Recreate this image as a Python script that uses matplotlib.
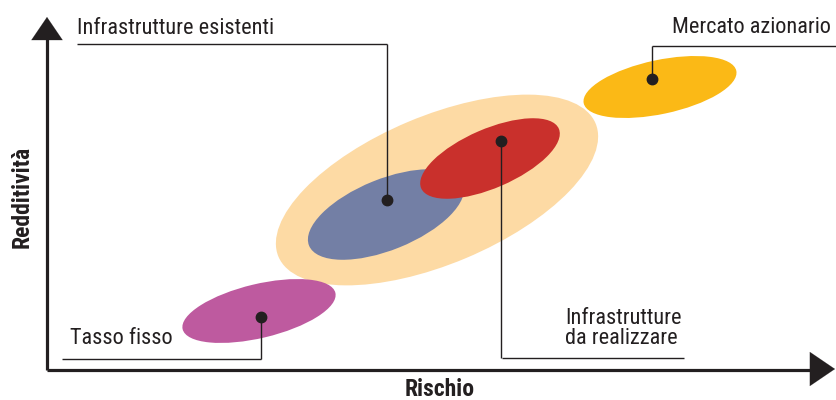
import matplotlib
matplotlib.use("Agg")
import matplotlib.pyplot as plt
from matplotlib.patches import Ellipse

FONT = "Roboto Condensed"
plt.rcParams["font.family"] = [FONT, "DejaVu Sans"]

INK = "#231F20"

# Ellipses (pixel coordinates, y downward): label, cx, cy, width, height, screen angle, colour
ell_names = ["Infrastrutture (ombrello)", "Infrastrutture esistenti", "Infrastrutture da realizzare",
             "Tasso fisso", "Mercato azionario"]
ell_cx = [437, 386, 490, 259, 660]
ell_cy = [190, 214.5, 158.5, 311, 87]
ell_w = [344, 166, 150, 157, 156]
ell_h = [148, 71, 59, 54, 54]
ell_ang = [22.8, 22, 23.4, 13.4, 12]
ell_col = ["#FDDAA4", "#737FA5", "#C9302C", "#BE5A9F", "#FBB916"]

# Dots and leader lines
dot_x = [387, 501, 261, 652]
dot_y = [200, 141, 317, 79]
labels = ["Infrastrutture esistenti", "Infrastrutture\nda realizzare", "Tasso fisso", "Mercato azionario"]
line_y = [44, 358, 359, 46]
line_x0 = [77, 502, 62, 652]
line_x1 = [387, 684, 261, 836]
text_x = [77, 565, 70, 672]
text_y = [39, 349, 349, 38]

fig = plt.figure(figsize=(8.36, 4.0), dpi=100)
ax = fig.add_axes([0, 0, 1, 1])
ax.set_xlim(0, 836)
ax.set_ylim(400, 0)
ax.axis("off")

for cx, cy, w, h, a, c in zip(ell_cx, ell_cy, ell_w, ell_h, ell_ang, ell_col):
    ax.add_patch(Ellipse((cx, cy), w, h, angle=-a, facecolor=c, edgecolor="none"))

for dx, dy, ly, x0, x1, lab, tx, ty in zip(dot_x, dot_y, line_y, line_x0, line_x1, labels, text_x, text_y):
    ax.plot([dx, dx], [dy, ly], color=INK, lw=1.0, solid_capstyle="butt")
    ax.plot([x0, x1], [ly, ly], color=INK, lw=1.0, solid_capstyle="butt")
    ax.plot(dx, dy, "o", color=INK, ms=7.5, zorder=5)
    ax.text(tx, ty, lab, ha="left", va="bottom", fontsize=16, color=INK, linespacing=0.95)

# Axes with arrows
ax.plot([47, 812], [370, 370], color=INK, lw=2.3, solid_capstyle="butt")
ax.plot([47, 47], [370, 38], color=INK, lw=2.3, solid_capstyle="butt")
ax.annotate("", xy=(47, 17), xytext=(47, 40),
            arrowprops=dict(arrowstyle="-|>,head_length=1.0,head_width=0.68", mutation_scale=16.5,
                            color=INK, lw=0.1, shrinkA=0, shrinkB=0))
ax.annotate("", xy=(835, 369), xytext=(810, 369),
            arrowprops=dict(arrowstyle="-|>,head_length=1.0,head_width=0.68", mutation_scale=18,
                            color=INK, lw=0.1, shrinkA=0, shrinkB=0))

ax.text(440, 390, "Rischio", ha="center", va="center", fontsize=17, fontweight="bold", color=INK)
ax.text(22, 197, "Redditività", ha="center", va="center", rotation=90, fontsize=17,
        fontweight="bold", color=INK)

fig.savefig("out.png", dpi=100)
